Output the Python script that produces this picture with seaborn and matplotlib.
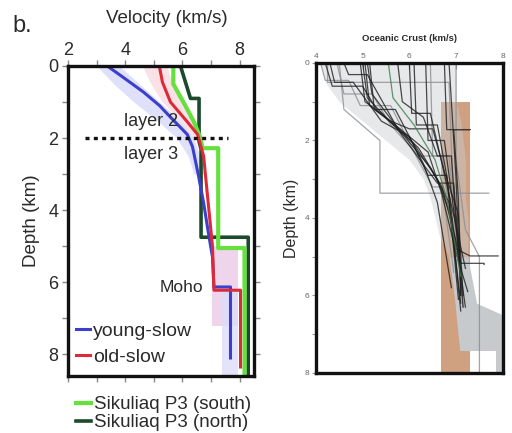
import numpy as np
import pandas as pd
import matplotlib
matplotlib.use("Agg")
import matplotlib.pyplot as plt
import seaborn as sns
from matplotlib.ticker import MultipleLocator

# ---- left panel: 1-D velocity models (km/s vs depth km) ----
YOUNG_V = [3.37, 3.9, 4.63, 5.2, 5.58, 6.17, 6.35, 6.55, 6.74, 6.9, 7.05, 7.1, 7.68, 7.68]
YOUNG_D = [0.0, 0.3, 0.72, 1.1, 1.42, 1.9, 2.24, 3.0, 3.8, 4.6, 5.3, 6.13, 6.13, 8.1]

OLD_V = [5.19, 5.3, 5.58, 6.17, 6.53, 6.74, 6.9, 7.05, 7.1, 8.03, 8.03]
OLD_D = [0.0, 0.45, 1.0, 1.55, 1.9, 2.5, 3.8, 5.0, 6.22, 6.22, 8.35]

SOUTH_V = [5.68, 5.68, 5.75, 6.1, 6.4, 6.63, 6.7, 7.25, 7.25, 8.17, 8.17]
SOUTH_D = [0.0, 0.5, 0.6, 1.1, 1.55, 2.0, 2.28, 2.28, 5.05, 5.05, 8.6]

NORTH_V = [5.93, 6.28, 6.58, 6.58, 6.65, 6.65, 8.3, 8.3]
NORTH_D = [0.0, 0.9, 0.9, 2.1, 2.3, 4.75, 4.75, 8.6]

# uncertainty bands
YBAND_D = [0.0, 0.5, 1.0, 1.5, 2.0, 2.5, 3.0]
YBAND_LO = [3.0, 3.6, 4.3, 5.1, 5.8, 6.2, 6.4]
YBAND_HI = [3.8, 4.5, 5.2, 5.9, 6.4, 6.6, 6.75]
OBAND_D = [0.0, 0.5, 1.0, 1.5, 2.0]
OBAND_LO = [4.6, 4.9, 5.3, 5.9, 6.4]
OBAND_HI = [5.45, 5.65, 6.0, 6.45, 6.7]
MOHO_PINK = ([5.0, 7.2], 7.05, 7.95)
MOHO_BLUE = ([6.2, 8.6], 7.4, 7.95)

# ---- right panel: compilation of oceanic crust profiles ----
PROFILES = [
    # (velocities, depths, shade)
    ([4.10, 4.20, 4.70, 4.95, 5.60, 6.10, 6.50, 6.70, 6.95], [0, 0.45, 0.45, 1.10, 1.10, 2.30, 3.20, 3.20, 5.40], "light"),
    ([4.20, 4.35, 5.00, 5.30, 5.70, 6.30, 6.60, 6.90], [0, 0.60, 0.60, 1.20, 1.20, 2.60, 3.60, 5.80], "dark"),
    ([4.25, 4.25, 6.85, 6.90, 7.00], [0, 0.50, 0.50, 2.20, 4.80], "light"),
    ([4.30, 4.40, 4.80, 5.40, 6.00, 6.40, 6.80, 7.05], [0, 0.50, 0.50, 1.50, 1.90, 2.90, 2.90, 6.10], "dark"),
    ([4.45, 4.60, 5.20, 5.60, 6.20, 6.70, 7.00], [0, 0.80, 0.80, 1.60, 2.40, 2.40, 5.20], "light"),
    ([4.60, 4.70, 5.10, 5.80, 6.35, 6.60, 6.95, 7.15], [0, 0.30, 0.30, 1.80, 2.70, 3.10, 3.10, 6.30], "dark"),
    ([4.50, 4.60, 5.37, 5.37, 7.70], [0, 1.20, 2.00, 3.36, 3.36], "light"),
    ([4.95, 5.05, 5.40, 5.90, 6.45, 6.85, 7.10], [0, 1.00, 1.30, 1.90, 2.70, 3.60, 6.20], "dark"),
    ([5.00, 5.10, 5.50, 6.10, 6.60, 6.90, 7.10], [0, 0.90, 1.40, 2.10, 3.00, 4.00, 6.40], "dark"),
    ([5.05, 5.15, 5.60, 6.00, 6.50, 6.75, 7.05, 7.15], [0, 1.10, 1.50, 1.70, 1.70, 2.80, 3.90, 6.00], "dark"),
    ([5.10, 5.20, 5.70, 6.20, 6.70, 7.00, 7.20], [0, 0.80, 1.60, 2.20, 3.20, 4.60, 6.30], "dark"),
    ([5.15, 5.25, 5.80, 6.40, 6.70, 7.00, 7.25], [0, 1.20, 1.70, 2.30, 3.40, 4.90, 5.90], "dark"),
    ([5.55, 5.65, 6.10, 6.55, 6.80, 7.10], [0, 0.90, 1.60, 2.50, 3.50, 5.50], "green"),
    ([5.75, 5.85, 6.30, 6.60, 6.90, 7.05], [0, 1.00, 1.40, 2.40, 2.40, 5.00], "dark"),
    ([6.00, 6.05, 6.45, 6.70, 7.00, 7.20], [0, 1.30, 1.30, 2.60, 4.20, 5.30], "dark"),
    ([6.10, 6.15, 6.60, 6.80, 7.00, 7.30, 7.90], [0, 1.60, 1.60, 2.90, 4.80, 4.98, 4.98], "dark"),
    ([6.35, 6.40, 6.75, 6.95, 7.10, 7.60, 7.60], [0, 2.00, 2.00, 3.80, 5.17, 5.17, 5.20], "dark"),
    ([6.45, 6.50, 6.85, 7.00, 7.15], [0, 2.40, 2.40, 4.40, 6.30], "light"),
    ([6.75, 6.80, 7.30, 6.95, 7.05, 7.10], [0, 1.72, 1.72, 1.72, 3.50, 6.00], "dark"),
    ([6.85, 6.90, 7.00, 7.10], [0, 1.00, 3.00, 6.00], "dark"),
    ([7.00, 7.00, 7.20, 7.50, 7.50], [0, 2.50, 4.30, 5.00, 8.00], "light"),
]
SHADES = {"dark": "#1e1e1e", "light": "#8a8e92", "green": "#3f7a4a"}

ENV_D = [0, 0.5, 1.0, 1.5, 2.0, 2.5, 3.0, 3.5, 4.0, 4.5, 5.0]
ENV_L = [4.1, 4.2, 4.5, 5.0, 5.5, 6.0, 6.3, 6.45, 6.55, 6.65, 6.85]
ENV_R = [7.0, 7.0, 7.0, 7.1, 7.15, 7.2, 7.2, 7.2, 7.25, 7.25, 7.25]
LOW_D = [5.0, 6.2, 6.5, 7.42]
LOW_L = [6.85, 6.98, 7.0, 7.08]
LOW_R = [7.25, 7.44, 8.0, 8.0]
BROWN = ([1.0, 8.0], 6.68, 7.3)

plt.rcParams['font.family'] = ['Liberation Sans', 'DejaVu Sans']
TXT = "#2a2a2a"

fig = plt.figure(figsize=(5.12, 4.33), dpi=100)
ax = fig.add_axes([0.133, 0.1316, 0.363, 0.716])
ax2 = fig.add_axes([0.617, 0.1386, 0.365, 0.716])

# ---------- left panel ----------
ax.fill_betweenx(YBAND_D, YBAND_LO, YBAND_HI, color="#c9cdf5", alpha=0.6, lw=0)
ax.fill_betweenx(OBAND_D, OBAND_LO, OBAND_HI, color="#f6cdd5", alpha=0.6, lw=0)
ax.fill_betweenx(MOHO_PINK[0], MOHO_PINK[1], MOHO_PINK[2], color="#eccbe6", alpha=0.8, lw=0)
ax.fill_betweenx(MOHO_BLUE[0], MOHO_BLUE[1], MOHO_BLUE[2], color="#dcdcf8", alpha=0.8, lw=0)

sns.lineplot(x=NORTH_V, y=NORTH_D, sort=False, estimator=None, color="#1c4a2c", lw=2.6, ax=ax,
             label="Sikuliaq P3 (north)")
sns.lineplot(x=SOUTH_V, y=SOUTH_D, sort=False, estimator=None, color="#66e03c", lw=3.0, ax=ax,
             label="Sikuliaq P3 (south)")
sns.lineplot(x=YOUNG_V, y=YOUNG_D, sort=False, estimator=None, color="#3b3fcc", lw=2.2, ax=ax,
             label="young-slow")
sns.lineplot(x=OLD_V, y=OLD_D, sort=False, estimator=None, color="#dc2a3a", lw=2.2, ax=ax,
             label="old-slow")

ax.plot([2.6, 7.6], [2, 2], color="#111111", lw=2.4, ls=(0, (1.2, 1.3)))
ax.text(4.9, 1.55, "layer 2", fontsize=13, color=TXT, ha="center", va="center")
ax.text(4.9, 2.45, "layer 3", fontsize=13, color=TXT, ha="center", va="center")
ax.text(6.72, 6.14, "Moho", fontsize=12.5, color=TXT, ha="right", va="center")

ax.set_xlim(2, 8.5)
ax.set_ylim(8.6, 0)
ax.xaxis.set_major_locator(MultipleLocator(2))
ax.xaxis.set_minor_locator(MultipleLocator(1))
ax.yaxis.set_major_locator(MultipleLocator(2))
ax.yaxis.set_minor_locator(MultipleLocator(1))
ax.tick_params(axis="x", which="both", top=True, bottom=True, labeltop=True, labelbottom=False,
               direction="out", length=4, width=1, color="#888888", labelsize=13, labelcolor=TXT, pad=1)
ax.tick_params(axis="y", which="both", left=True, right=True, direction="out", length=4, width=1,
               color="#888888", labelsize=13, labelcolor=TXT, pad=3)
ax.set_xlabel("")
ax.set_ylabel("Depth (km)", fontsize=13.5, color=TXT, labelpad=6)
for s in ax.spines.values():
    s.set_linewidth(2.4)
    s.set_color("#111111")

h, l = ax.get_legend_handles_labels()
lg1 = ax.legend(h[2:], l[2:], loc="lower left", bbox_to_anchor=(-0.01, 0.0), frameon=False,
                fontsize=14, handlelength=0.7, handletextpad=0.2, labelspacing=0.45,
                borderaxespad=0.1, labelcolor=TXT)
ax.add_artist(lg1)
ax.legend(h[1::-1], l[1::-1], loc="upper left", bbox_to_anchor=(-0.01, -0.035), frameon=False,
          fontsize=13.5, handlelength=0.8, handletextpad=0.2, labelspacing=0.05,
          borderaxespad=0.1, labelcolor=TXT)

fig.text(0.025, 0.925, "b.", fontsize=17, color=TXT)
fig.text(0.326, 0.958, "Velocity (km/s)", fontsize=13.5, color=TXT, ha="center", va="center")

# ---------- right panel ----------
ax2.fill_betweenx(BROWN[0], BROWN[1], BROWN[2], color="#c8916b", alpha=0.85, lw=0)
ax2.fill_betweenx(ENV_D, ENV_L, ENV_R, color="#c8ccd0", alpha=0.45, lw=0)
ax2.fill_betweenx(LOW_D, LOW_L, LOW_R, color="#c6cacd", lw=0)
ax2.fill_betweenx([7.42, 8.0], 7.85, 8.0, color="#c6cacd", lw=0)

rows = []
for i, (v, d, shade) in enumerate(PROFILES):
    for vi, di in zip(v, d):
        rows.append({"v": vi, "d": di, "profile": i, "shade": shade})
prof = pd.DataFrame(rows)
sns.lineplot(data=prof, x="v", y="d", units="profile", hue="shade", palette=SHADES,
             estimator=None, sort=False, lw=0.9, alpha=0.8, legend=False, ax=ax2)

ax2.set_xlim(4, 8)
ax2.set_ylim(8, 0)
ax2.xaxis.set_major_locator(MultipleLocator(1))
ax2.yaxis.set_major_locator(MultipleLocator(2))
ax2.yaxis.set_minor_locator(MultipleLocator(1))
ax2.tick_params(axis="x", top=True, bottom=False, labeltop=True, labelbottom=False, direction="in",
                length=4, width=0.8, color="#888888", labelsize=6, labelcolor="#666666", pad=2)
ax2.tick_params(axis="y", which="both", direction="out", length=3, width=0.8, color="#999999",
                labelsize=6, labelcolor="#666666", pad=2)
ax2.set_xlabel("")
ax2.set_ylabel("Depth (km)", fontsize=11.5, color=TXT, labelpad=4)
for s in ax2.spines.values():
    s.set_linewidth(2.4)
    s.set_color("#111111")
fig.text(0.799, 0.912, "Oceanic Crust (km/s)", fontsize=6.8, fontweight="bold", color=TXT,
         ha="center", va="center")

fig.savefig("out.png", dpi=100)
